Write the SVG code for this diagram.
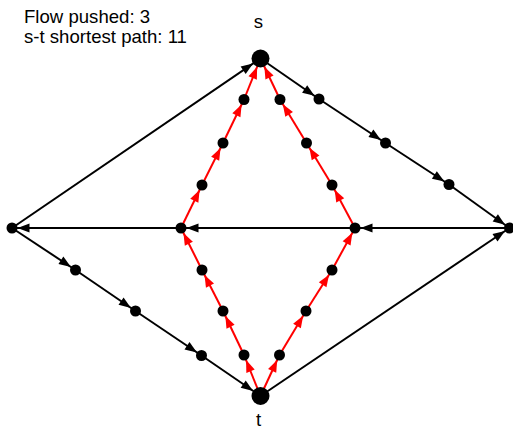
<svg xmlns="http://www.w3.org/2000/svg" width="513" height="430" viewBox="0 0 513 430">
<style>
.e{stroke:#000;stroke-width:2;fill:none}
.r{stroke:#f00;stroke-width:2;fill:none}
.n{fill:#000}
.lbl{font-family:"Liberation Sans",Arial,sans-serif;font-size:18.6px;fill:#000}
</style>
<defs>
<marker id="bs" markerUnits="userSpaceOnUse" markerWidth="12" markerHeight="9" refX="17.5" refY="4.5" orient="auto" overflow="visible"><path d="M0,0 L12,4.5 L0,9 z" fill="#000"/></marker>
<marker id="bb" markerUnits="userSpaceOnUse" markerWidth="12" markerHeight="9" refX="21" refY="4.5" orient="auto" overflow="visible"><path d="M0,0 L12,4.5 L0,9 z" fill="#000"/></marker>
<marker id="rs" markerUnits="userSpaceOnUse" markerWidth="12" markerHeight="9" refX="17.5" refY="4.5" orient="auto" overflow="visible"><path d="M0,0 L12,4.5 L0,9 z" fill="#f00"/></marker>
<marker id="rb" markerUnits="userSpaceOnUse" markerWidth="12" markerHeight="9" refX="21" refY="4.5" orient="auto" overflow="visible"><path d="M0,0 L12,4.5 L0,9 z" fill="#f00"/></marker>
</defs>
<rect width="513" height="430" fill="#fff"/>
<text class="lbl" x="24" y="22.7">Flow pushed: 3</text>
<text class="lbl" x="24" y="43.3">s-t shortest path: 11</text>
<g id="connectors">
<line class="e" x1="12" y1="228" x2="260.5" y2="58.5" marker-end="url(#bb)"/>
<line class="e" x1="260.5" y1="58.5" x2="319" y2="99" marker-end="url(#bs)"/>
<line class="e" x1="319" y1="99" x2="385.5" y2="143" marker-end="url(#bs)"/>
<line class="e" x1="385.5" y1="143" x2="449" y2="184.5" marker-end="url(#bs)"/>
<line class="e" x1="449" y1="184.5" x2="509.5" y2="228" marker-end="url(#bs)"/>
<line class="e" x1="509.5" y1="228" x2="355" y2="228" marker-end="url(#bs)"/>
<line class="e" x1="355" y1="228" x2="181" y2="228" marker-end="url(#bs)"/>
<line class="e" x1="181" y1="228" x2="12" y2="228" marker-end="url(#bs)"/>
<line class="e" x1="12" y1="228" x2="75.5" y2="270" marker-end="url(#bs)"/>
<line class="e" x1="75.5" y1="270" x2="135.5" y2="311" marker-end="url(#bs)"/>
<line class="e" x1="135.5" y1="311" x2="201.5" y2="355.5" marker-end="url(#bs)"/>
<line class="e" x1="201.5" y1="355.5" x2="260.5" y2="396" marker-end="url(#bb)"/>
<line class="e" x1="260.5" y1="396" x2="509.5" y2="228" marker-end="url(#bs)"/>
<line class="r" x1="260.5" y1="396" x2="244" y2="355" marker-end="url(#rs)"/>
<line class="r" x1="244" y1="355" x2="223" y2="311" marker-end="url(#rs)"/>
<line class="r" x1="223" y1="311" x2="202" y2="270" marker-end="url(#rs)"/>
<line class="r" x1="202" y1="270" x2="181" y2="228" marker-end="url(#rs)"/>
<line class="r" x1="181" y1="228" x2="202" y2="185" marker-end="url(#rs)"/>
<line class="r" x1="202" y1="185" x2="223" y2="143" marker-end="url(#rs)"/>
<line class="r" x1="223" y1="143" x2="244" y2="99.5" marker-end="url(#rs)"/>
<line class="r" x1="244" y1="99.5" x2="260.5" y2="58.5" marker-end="url(#rb)"/>
<line class="r" x1="260.5" y1="396" x2="279.5" y2="355" marker-end="url(#rs)"/>
<line class="r" x1="279.5" y1="355" x2="306" y2="311" marker-end="url(#rs)"/>
<line class="r" x1="306" y1="311" x2="332" y2="270" marker-end="url(#rs)"/>
<line class="r" x1="332" y1="270" x2="355" y2="228" marker-end="url(#rs)"/>
<line class="r" x1="355" y1="228" x2="332" y2="185" marker-end="url(#rs)"/>
<line class="r" x1="332" y1="185" x2="306.5" y2="143" marker-end="url(#rs)"/>
<line class="r" x1="306.5" y1="143" x2="280" y2="99.5" marker-end="url(#rs)"/>
<line class="r" x1="280" y1="99.5" x2="260.5" y2="58.5" marker-end="url(#rb)"/>
</g>
<g id="s"><circle class="n" cx="260.5" cy="58.5" r="9"/><text class="lbl" x="258.5" y="28" text-anchor="middle">s</text></g>
<g id="t"><circle class="n" cx="260.5" cy="396" r="9"/><text class="lbl" x="258.5" y="425.5" text-anchor="middle">t</text></g>
<g id="L"><circle class="n" cx="12" cy="228" r="5.5"/></g>
<g id="R"><circle class="n" cx="509.5" cy="228" r="5.5"/></g>
<g id="ML"><circle class="n" cx="181" cy="228" r="5.5"/></g>
<g id="MR"><circle class="n" cx="355" cy="228" r="5.5"/></g>
<g id="a1"><circle class="n" cx="202" cy="185" r="5.5"/></g>
<g id="a2"><circle class="n" cx="223" cy="143" r="5.5"/></g>
<g id="a3"><circle class="n" cx="244" cy="99.5" r="5.5"/></g>
<g id="b1"><circle class="n" cx="280" cy="99.5" r="5.5"/></g>
<g id="b2"><circle class="n" cx="306.5" cy="143" r="5.5"/></g>
<g id="b3"><circle class="n" cx="332" cy="185" r="5.5"/></g>
<g id="c1"><circle class="n" cx="202" cy="270" r="5.5"/></g>
<g id="c2"><circle class="n" cx="223" cy="311" r="5.5"/></g>
<g id="c3"><circle class="n" cx="244" cy="355" r="5.5"/></g>
<g id="d1"><circle class="n" cx="279.5" cy="355" r="5.5"/></g>
<g id="d2"><circle class="n" cx="306" cy="311" r="5.5"/></g>
<g id="d3"><circle class="n" cx="332" cy="270" r="5.5"/></g>
<g id="e1"><circle class="n" cx="319" cy="99" r="5.5"/></g>
<g id="e2"><circle class="n" cx="385.5" cy="143" r="5.5"/></g>
<g id="e3"><circle class="n" cx="449" cy="184.5" r="5.5"/></g>
<g id="f1"><circle class="n" cx="75.5" cy="270" r="5.5"/></g>
<g id="f2"><circle class="n" cx="135.5" cy="311" r="5.5"/></g>
<g id="f3"><circle class="n" cx="201.5" cy="355.5" r="5.5"/></g>
</svg>
